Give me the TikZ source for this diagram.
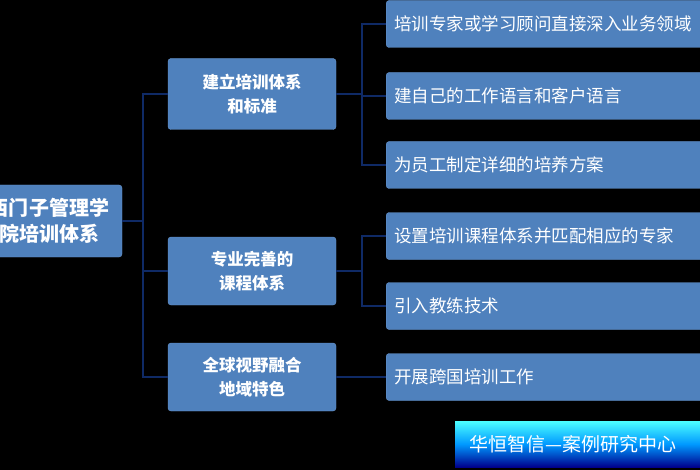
\documentclass[tikz,border=0pt]{standalone}
\usepackage{fontspec}
\newfontfamily\cjk{Noto Sans CJK SC}
\usetikzlibrary{positioning}
\definecolor{boxblue}{HTML}{4F81BD}
\definecolor{boxedge}{HTML}{6A97CF}
\definecolor{linkblue}{HTML}{0F2A66}
\tikzset{
  topic/.style={fill=boxblue, draw=boxedge, rounded corners=3pt, text=white, font=\cjk\bfseries\fontsize{16.5}{24}\selectfont, align=center, inner sep=0pt},
  leaf/.style={fill=boxblue, draw=boxedge, rounded corners=3pt, text=white, font=\cjk\fontsize{17.5}{20}\selectfont, anchor=west, minimum width=340pt, minimum height=47pt, text width=325pt, inner xsep=8pt},
  link/.style={draw=linkblue, line width=1.8pt}
}
\begin{document}
\begin{tikzpicture}[x=1pt,y=-1pt]
  \fill[black] (0,0) rectangle (700,470);
  \useasboundingbox (0,0) rectangle (700,470);
  % root and topics
  \node[topic, minimum width=140pt, minimum height=72pt, font=\cjk\bfseries\fontsize{20}{26}\selectfont] (root) at (52,221) {\hspace*{-6pt}西门子管理学\\\hspace*{-6pt}院培训体系};
  \node[topic, minimum width=168pt, minimum height=71pt] (std) at (252,94) {建立培训体系\\和标准};
  \node[topic, minimum width=168pt, minimum height=68pt] (course) at (252,271) {专业完善的\\课程体系};
  \node[topic, minimum width=168pt, minimum height=68pt] (global) at (252,377) {全球视野融合\\地域特色};
  % leaves
  \node[leaf] (l1) at (386,24) {培训专家或学习顾问直接深入业务领域};
  \node[leaf] (l2) at (386,96) {建自己的工作语言和客户语言};
  \node[leaf] (l3) at (386,165) {为员工制定详细的培养方案};
  \node[leaf] (l4) at (386,236) {设置培训课程体系并匹配相应的专家};
  \node[leaf] (l5) at (386,306) {引入教练技术};
  \node[leaf] (l6) at (386,377) {开展跨国培训工作};
  % links
  \coordinate (r0) at (143,221);
  \draw[link] (root.east) -- (r0);
  \foreach \t in {std,course,global}
    \draw[link] (r0) |- (\t.west);
  \coordinate (s0) at (362,94);
  \draw[link] (std.east) -- (s0);
  \foreach \l in {l1,l2,l3}
    \draw[link] (s0) |- (\l.west);
  \coordinate (c0) at (362,271);
  \draw[link] (course.east) -- (c0);
  \foreach \l in {l4,l5}
    \draw[link] (c0) |- (\l.west);
  \draw[link] (global.east) -- (l6.west);
  % watermark
  \shade[top color=cyan!70!white, bottom color=blue!55!black, middle color=cyan!60!blue] (455,421) rectangle (705,467);
  \node[text=white, font=\cjk\fontsize{19}{22}\selectfont, anchor=west] (mark) at (466,444) {华恒智信—案例研究中心};
\end{tikzpicture}
\end{document}
